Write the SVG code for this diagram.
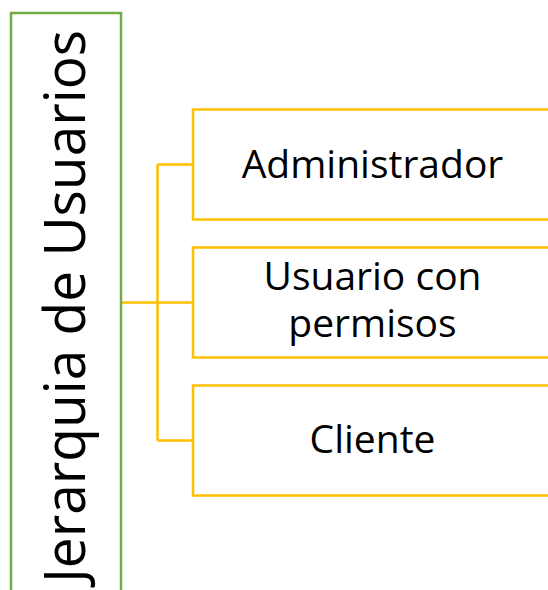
<svg xmlns="http://www.w3.org/2000/svg" width="548" height="590" viewBox="0 0 548 590">
<style>
.root{fill:#fff;stroke:#70AD47;stroke-width:2.5}
.box{fill:#fff;stroke:#FFC000;stroke-width:2.5}
.conn{fill:none;stroke:#FFC000;stroke-width:2.5}
.t{font-family:"Open Sans","Liberation Sans",sans-serif;fill:#000;text-anchor:middle}
.tb{font-size:39px}
.tr{font-size:56px;text-anchor:start}
</style>
<rect width="548" height="590" fill="#fff"/>
<g id="connectors">
<path class="conn" d="M121 302.5H193M157.5 164.5V440.5M157.5 164.5H193M157.5 440.5H193"/>
</g>
<g id="root">
<rect class="root" x="11" y="13" width="110" height="600"/>
<text class="t tr" transform="translate(85,583) rotate(-90)" textLength="553" lengthAdjust="spacingAndGlyphs">Jerarquia de Usuarios</text>
</g>
<g id="administrador">
<rect class="box" x="193" y="109.5" width="370" height="110"/>
<text class="t tb" x="372.5" y="178">Administrador</text>
</g>
<g id="usuario">
<rect class="box" x="193" y="247.5" width="370" height="110"/>
<text class="t tb" x="372.5" y="290">Usuario con</text>
<text class="t tb" x="372.5" y="337">permisos</text>
</g>
<g id="cliente">
<rect class="box" x="193" y="385.5" width="370" height="110"/>
<text class="t tb" x="372.5" y="453">Cliente</text>
</g>
</svg>
